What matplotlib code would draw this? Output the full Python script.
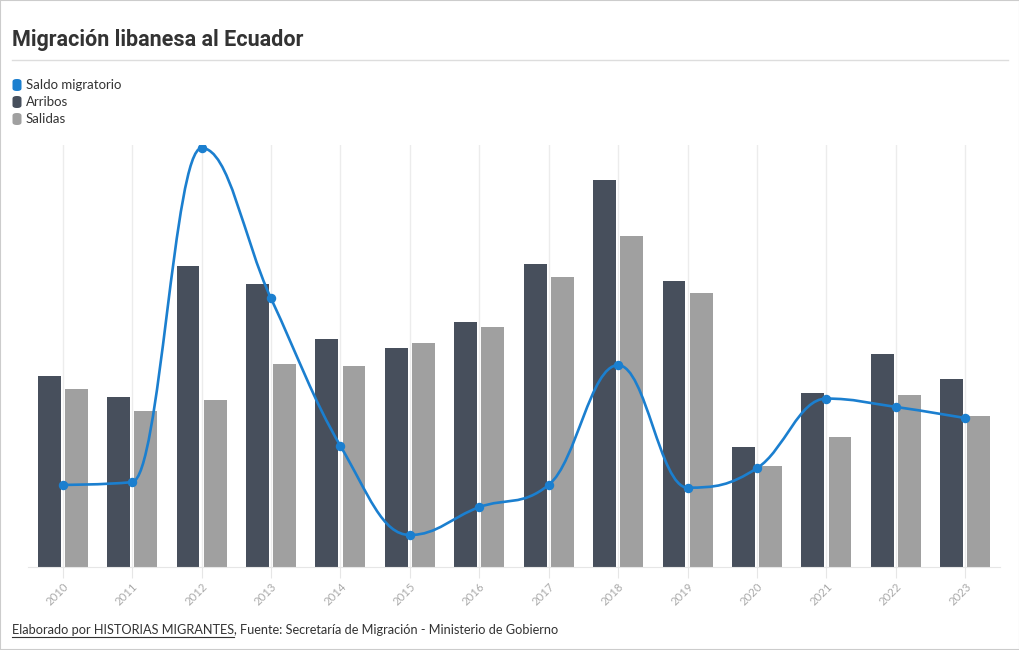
import matplotlib
matplotlib.use("Agg")
import matplotlib.pyplot as plt
from matplotlib.patches import FancyBboxPatch, Rectangle
from matplotlib.path import Path
from matplotlib.patches import PathPatch
from matplotlib.lines import Line2D
import numpy as np

years = ["2010", "2011", "2012", "2013", "2014", "2015", "2016",
         "2017", "2018", "2019", "2020", "2021", "2022", "2023"]
arribos = [191, 170, 301, 283, 228, 219, 245, 303, 387, 286, 120, 174, 213, 188]
salidas = [178, 156, 167, 203, 201, 224, 240, 290, 331, 274, 101, 130, 172, 151]
saldo = [13, 14, 134, 80, 27, -5, 5, 13, 56, 12, 19, 44, 41, 37]

C_LINE = "#1b7fcf"
C_ARR = "#474f5c"
C_SAL = "#a0a0a0"
FONT = ["Lato", "DejaVu Sans"]

W, H = 1020, 650
fig = plt.figure(figsize=(W / 100, H / 100), dpi=100)
fig.patch.set_facecolor("white")

def fx(px):
    return px / W

def fy(py):
    return 1 - py / H

ax = fig.add_axes([fx(28), fy(567), fx(1000) - fx(28), fy(145) - fy(567)])
ax2 = ax.twinx()

x = np.arange(len(years))
bw = 0.33
ax.bar(x - 0.195, arribos, width=bw, color=C_ARR, zorder=2)
ax.bar(x + 0.195, salidas, width=bw, color=C_SAL, zorder=2)
ax.set_xlim(-0.5, len(years) - 0.5)
ax.set_ylim(0, 422)
for xi in x:
    ax.axvline(xi, color="#ececec", lw=1, zorder=0)
ax.set_yticks([])
for s in ["top", "right", "left"]:
    ax.spines[s].set_visible(False)
ax.spines["bottom"].set_color("#e6e6e6")
ax.set_xticks(x)
ax.set_xticklabels(years, rotation=45, ha="right", rotation_mode="anchor",
                   color="#aaaaaa", fontsize=8.2, family=FONT)
ax.tick_params(axis="x", length=8, color="#e6e6e6", pad=2)

# Highcharts-style spline through saldo points
ax2.set_ylim(-16.5, 135.1)
ax2.set_yticks([])
for s in ["top", "right", "left", "bottom"]:
    ax2.spines[s].set_visible(False)

xs = list(x.astype(float))
ys = list(map(float, saldo))
sm, den = 1.5, 2.5
n = len(xs)
lc = [None] * n
rc = [None] * n
for i in range(n):
    px, py = xs[i], ys[i]
    if i == 0 or i == n - 1:
        lc[i] = (px, py)
        rc[i] = (px, py)
        continue
    lx, ly = xs[i - 1], ys[i - 1]
    nx, ny = xs[i + 1], ys[i + 1]
    lcx = (sm * px + lx) / den
    lcy = (sm * py + ly) / den
    rcx = (sm * px + nx) / den
    rcy = (sm * py + ny) / den
    corr = 0.0
    if rcx != lcx:
        corr = (rcy - lcy) * (rcx - px) / (rcx - lcx) + py - rcy
    lcy += corr
    rcy += corr
    if lcy > ly and lcy > py:
        lcy = max(ly, py); rcy = 2 * py - lcy
    elif lcy < ly and lcy < py:
        lcy = min(ly, py); rcy = 2 * py - lcy
    if rcy > ny and rcy > py:
        rcy = max(ny, py); lcy = 2 * py - rcy
    elif rcy < ny and rcy < py:
        rcy = min(ny, py); lcy = 2 * py - rcy
    lc[i] = (lcx, lcy)
    rc[i] = (rcx, rcy)

verts = [(xs[0], ys[0])]
codes = [Path.MOVETO]
for i in range(1, n):
    verts += [rc[i - 1], lc[i], (xs[i], ys[i])]
    codes += [Path.CURVE4] * 3
ax2.add_patch(PathPatch(Path(verts, codes), fill=False, edgecolor=C_LINE, lw=1.9, zorder=3))
ax2.plot(xs, ys, "o", color=C_LINE, ms=5.8, zorder=4)

# Title and divider
fig.text(fx(12), fy(40), "Migración libanesa al Ecuador", fontsize=15.5, fontweight="bold",
         color="#333333", family=["Liberation Sans Narrow", "Roboto", "DejaVu Sans"],
         ha="left", va="center")
fig.add_artist(Line2D([fx(12), fx(1008)], [fy(59.5), fy(59.5)], color="#dddddd", lw=1))

# Legend
items = [("Saldo migratorio", C_LINE), ("Arribos", C_ARR), ("Salidas", C_SAL)]
for k, (lab, col) in enumerate(items):
    cy = 85 + 17 * k
    fig.add_artist(FancyBboxPatch((fx(12.5), fy(cy + 6)), fx(9), fy(cy - 6) - fy(cy + 6),
                                  boxstyle="round,pad=0,rounding_size=0.004",
                                  facecolor=col, edgecolor="none", transform=fig.transFigure))
    fig.text(fx(26), fy(cy), lab, fontsize=9.5, color="#333333", family=FONT,
             ha="left", va="center")

# Footer
t1 = fig.text(fx(12), fy(630), "Elaborado por HISTORIAS MIGRANTES", fontsize=9.2,
              color="#333333", family=FONT, ha="left", va="center")
fig.canvas.draw()
r = fig.canvas.get_renderer()
bb = t1.get_window_extent(renderer=r)
x0 = bb.x0 / W
x1 = bb.x1 / W
fig.add_artist(Line2D([x0, x1], [fy(636.5), fy(636.5)], color="#333333", lw=0.8))
fig.text(x1, fy(630), ", Fuente: Secretaría de Migración - Ministerio de Gobierno",
         fontsize=9.2, color="#333333", family=FONT, ha="left", va="center")

# Border
fig.add_artist(Rectangle((0, 0), 1, 1, transform=fig.transFigure, fill=False,
                         edgecolor="#cccccc", lw=1.5))

fig.savefig("out.png", dpi=100)
